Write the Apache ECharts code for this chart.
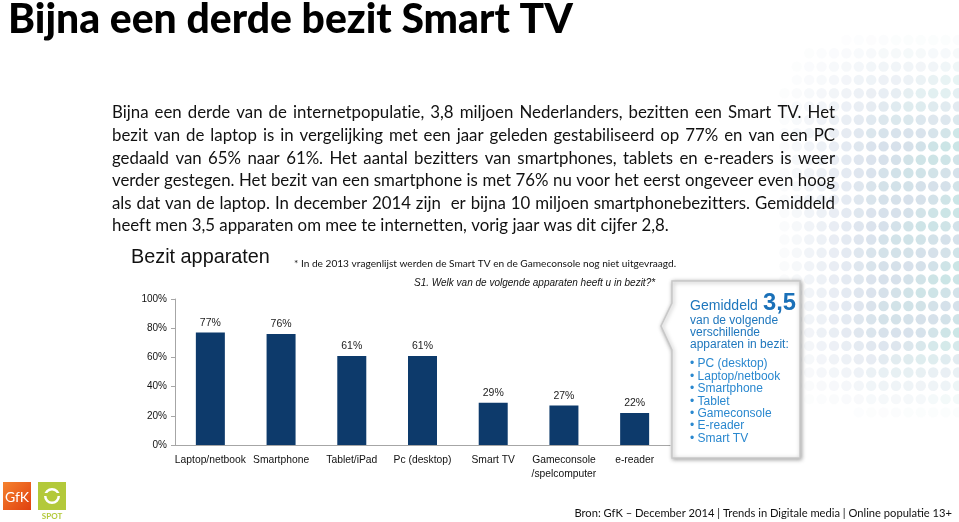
<!DOCTYPE html>
<html>
<head>
<meta charset="utf-8">
<script src="https://cdn.jsdelivr.net/npm/echarts@6/dist/echarts.min.js"></script>
<style>
html,body{margin:0;padding:0;background:#fff;}
#chart{width:959px;height:522px;}
</style>
</head>
<body>
<div id="chart"></div>
<script>
// ---------- data ----------
const titleText = 'Bijna een derde bezit Smart TV';
const paragraphLines = [
  'Bijna een derde van de internetpopulatie, 3,8 miljoen Nederlanders, bezitten een Smart TV. Het',
  'bezit van de laptop is in vergelijking met een jaar geleden gestabiliseerd op 77% en van een PC',
  'gedaald van 65% naar 61%. Het aantal bezitters van smartphones, tablets en e-readers is weer',
  'verder gestegen. Het bezit van een smartphone is met 76% nu voor het eerst ongeveer even hoog',
  'als dat van de laptop. In december 2014 zijn  er bijna 10 miljoen smartphonebezitters. Gemiddeld',
  'heeft men 3,5 apparaten om mee te internetten, vorig jaar was dit cijfer 2,8.'
];
const chartTitle = 'Bezit apparaten';
const footnote = '* In de 2013 vragenlijst werden de Smart TV en de Gameconsole nog niet uitgevraagd.';
const question = 'S1. Welk van de volgende apparaten heeft u in bezit?*';
const categories = ['Laptop/netbook', 'Smartphone', 'Tablet/iPad', 'Pc (desktop)', 'Smart TV', 'Gameconsole\n/spelcomputer', 'e-reader'];
const ownership = [77, 76, 61, 61, 29, 27, 22];
const yTicks = [0, 20, 40, 60, 80, 100];
const averageLabel = 'Gemiddeld';
const averageValue = '3,5';
const averageSub = ['van de volgende', 'verschillende', 'apparaten in bezit:'];
const boxItems = ['PC (desktop)', 'Laptop/netbook', 'Smartphone', 'Tablet', 'Gameconsole', 'E-reader', 'Smart TV'];
const sourceText = 'Bron: GfK \u2013 December 2014 | Trends in Digitale media | Online populatie 13+';

// ---------- helpers ----------
const cvs = document.createElement('canvas');
const ctx = cvs.getContext('2d');
function measure(text, font) { ctx.font = font; return ctx.measureText(text).width; }
function fitSize(text, weight, family, targetW) {
  const w = measure(text, weight + ' 40px ' + family);
  return 40 * targetW / w;
}
// break font ligatures (ti, tt, ft ...) so the text reads like the original
function noLig(s) { return s.replace(/([ft])(?=[a-z])/g, '$1\u200C'); }

const FONT_BODY = 'Lato';
const g = [];

// background dot pattern (decoration)
for (let r = 0; r < 29; r++) {
  for (let c = 0; c < 16; c++) {
    const x = 772 + c * 12.4;
    const y = 40 + r * 13.3;
    const fx = Math.max(0, Math.min(1, (x - 770) / 110));
    const fy = Math.max(0, Math.min(1, (y - 30) / 110)) * Math.max(0, Math.min(1, (420 - y) / 90));
    const a = 0.5 * fx * fy;
    if (a < 0.03) continue;
    const t = Math.max(0, Math.min(1, (x - 850) / 100)) * (0.6 + 0.4 * Math.sin(r * 1.3 + c * 0.7));
    const cr = Math.round(178 - 28 * t), cg = Math.round(194 + 10 * t), cb = Math.round(216 - 12 * t);
    g.push({ type: 'circle', z: 0, shape: { cx: x, cy: y, r: 5.2 },
      style: { fill: 'rgba(' + cr + ',' + cg + ',' + cb + ',' + a.toFixed(3) + ')' }, silent: true });
  }
}

// title
const titleSize = fitSize(titleText, '900', FONT_BODY, 565);
g.push({ type: 'text', z: 5, x: 8, y: 20, style: { text: titleText, font: '900 ' + titleSize.toFixed(2) + 'px ' + FONT_BODY, fill: '#000', align: 'left', verticalAlign: 'middle' } });

// paragraph (justified)
const paraSize = 16 * 557 / measure(noLig(paragraphLines[5]), '16px ' + FONT_BODY);
const paraFont = paraSize.toFixed(2) + 'px ' + FONT_BODY;
const paraLeft = 112, paraRight = 835;
paragraphLines.forEach((line, i) => {
  const y = 113 + i * 22.6;
  if (i === paragraphLines.length - 1) {
    g.push({ type: 'text', z: 5, x: paraLeft, y: y, style: { text: noLig(line), font: paraFont, fill: '#111', align: 'left', verticalAlign: 'middle' } });
    return;
  }
  const words = line.split(' ').map(noLig);
  const widths = words.map(w => measure(w, paraFont));
  const total = widths.reduce((s, v) => s + v, 0);
  const gap = (paraRight - paraLeft - total) / (words.length - 1);
  let x = paraLeft;
  words.forEach((w, k) => {
    if (w) g.push({ type: 'text', z: 5, x: x, y: y, style: { text: w, font: paraFont, fill: '#111', align: 'left', verticalAlign: 'middle' } });
    x += widths[k] + gap;
  });
});

// chart heading, footnote, question
const headSize = fitSize(chartTitle, 'normal', '"Liberation Sans"', 139);
g.push({ type: 'text', z: 5, x: 131, y: 258, style: { text: chartTitle, font: headSize.toFixed(2) + 'px "Liberation Sans"', fill: '#111', align: 'left', verticalAlign: 'middle' } });
const fnSize = fitSize(noLig(footnote), 'normal', FONT_BODY, 383);
g.push({ type: 'text', z: 5, x: 294, y: 264, style: { text: noLig(footnote), font: fnSize.toFixed(2) + 'px ' + FONT_BODY, fill: '#111', align: 'left', verticalAlign: 'middle' } });
const qSize = fitSize(question, 'italic', '"Liberation Sans"', 241);
g.push({ type: 'text', z: 5, x: 414, y: 283, style: { text: question, font: 'italic ' + qSize.toFixed(2) + 'px "Liberation Sans"', fill: '#111', align: 'left', verticalAlign: 'middle' } });

// callout box
g.push({ type: 'polygon', z: 3, shape: { points: [[672, 281], [800, 281], [800, 458], [672, 458], [672, 350], [661, 326], [672, 303]] },
  style: { fill: '#fff', stroke: '#c8c8c8', lineWidth: 1.5, shadowBlur: 4, shadowColor: 'rgba(0,0,0,0.35)', shadowOffsetX: 1, shadowOffsetY: 1 } });
const avgSize = fitSize(averageLabel, 'normal', '"Liberation Sans"', 68);
g.push({ type: 'text', z: 5, x: 690, y: 306, style: { text: averageLabel, font: avgSize.toFixed(2) + 'px "Liberation Sans"', fill: '#1f77bd', align: 'left', verticalAlign: 'middle' } });
const valSize = fitSize(averageValue, 'bold', '"Liberation Sans"', 33);
g.push({ type: 'text', z: 5, x: 763, y: 303, style: { text: averageValue, font: 'bold ' + valSize.toFixed(2) + 'px "Liberation Sans"', fill: '#1a70b8', align: 'left', verticalAlign: 'middle' } });
averageSub.forEach((t, i) => {
  g.push({ type: 'text', z: 5, x: 690, y: 321 + i * 12, style: { text: t, font: '12px "Liberation Sans"', fill: '#1f77bd', align: 'left', verticalAlign: 'middle' } });
});
boxItems.forEach((t, i) => {
  g.push({ type: 'text', z: 5, x: 690, y: 364 + i * 12.4, style: { text: '\u2022 ' + t, font: '12px "Liberation Sans"', fill: '#2a88cf', align: 'left', verticalAlign: 'middle' } });
});

// logos
g.push({ type: 'rect', z: 5, shape: { x: 3, y: 482, width: 28, height: 28 },
  style: { fill: new echarts.graphic.LinearGradient(0, 0, 1, 1, [{ offset: 0, color: '#f5822e' }, { offset: 1, color: '#e0400f' }]) } });
g.push({ type: 'text', z: 6, x: 17, y: 497, style: { text: 'GfK', font: '14px ' + FONT_BODY, fill: '#fff', align: 'center', verticalAlign: 'middle' } });
g.push({ type: 'rect', z: 5, shape: { x: 38, y: 482, width: 28, height: 28 }, style: { fill: '#b3c93a' } });
g.push({ type: 'ring', z: 6, shape: { cx: 52, cy: 496, r: 8, r0: 5.5 }, style: { fill: '#fff' } });
g.push({ type: 'rect', z: 7, shape: { x: 43, y: 493, width: 18, height: 3 }, style: { fill: '#b3c93a' } });
g.push({ type: 'text', z: 5, x: 52, y: 516, style: { text: 'SPOT', font: 'bold 8px ' + FONT_BODY, fill: '#b3c93a', align: 'center', verticalAlign: 'middle', letterSpacing: 2 } });

// source
const srcSize = fitSize(sourceText, 'normal', FONT_BODY, 378);
g.push({ type: 'text', z: 5, x: 952, y: 513, style: { text: sourceText, font: srcSize.toFixed(2) + 'px ' + FONT_BODY, fill: '#111', align: 'right', verticalAlign: 'middle' } });

// ---------- chart ----------
const chart = echarts.init(document.getElementById('chart'), null, { renderer: 'canvas' });
chart.setOption({
  animation: false,
  backgroundColor: '#fff',
  textStyle: { fontFamily: '"Liberation Sans", Arial, sans-serif' },
  grid: { left: 175, right: 289, top: 299, bottom: 77, containLabel: false },
  xAxis: {
    type: 'category',
    data: categories,
    axisLine: { lineStyle: { color: '#a6a6a6', width: 1 } },
    axisTick: { show: false },
    axisLabel: { color: '#111', fontSize: 10.3, margin: 8, lineHeight: 14, interval: 0 }
  },
  yAxis: {
    type: 'value',
    min: yTicks[0],
    max: yTicks[yTicks.length - 1],
    interval: yTicks[1] - yTicks[0],
    axisLine: { show: true, lineStyle: { color: '#a6a6a6', width: 1 } },
    axisTick: { show: true, length: 4, lineStyle: { color: '#a6a6a6' } },
    splitLine: { show: false },
    axisLabel: { formatter: '{value}%', color: '#111', fontSize: 10, margin: 8 }
  },
  series: [{
    type: 'bar',
    data: ownership,
    barWidth: 29,
    itemStyle: { color: '#0d3a6b' },
    label: { show: true, position: 'top', distance: 4, formatter: '{c}%', color: '#222', fontSize: 10.5 },
    z: 2
  }],
  graphic: { elements: g }
});
</script>
</body>
</html>
